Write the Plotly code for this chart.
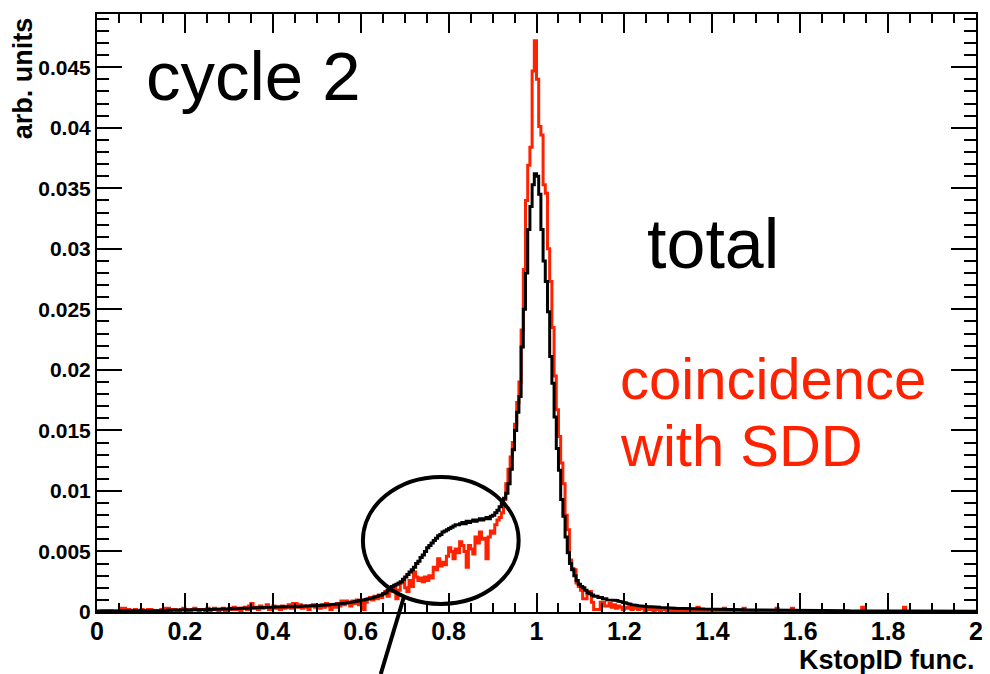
import plotly.graph_objects as go

# ---------------- data ----------------
BIN_WIDTH = 0.005
X_START = 0.0

# "total" histogram (black), 400 bins of 0.005 from 0 to 2
total = [
    0.00008,0.00009,0.0001,0.00009,0.0001,0.0001,0.00011,0.0001,0.0001,0.00011,
    0.0001,0.00011,0.0001,0.00012,0.00011,0.00011,0.00012,0.00011,0.00012,0.00012,
    0.00012,0.00013,0.00012,0.00013,0.00013,0.00012,0.00014,0.00013,0.00013,0.00014,
    0.00014,0.00013,0.00015,0.00014,0.00015,0.00015,0.00014,0.00016,0.00015,0.00016,
    0.00016,0.00017,0.00016,0.00018,0.00017,0.00018,0.00019,0.00018,0.0002,0.00019,
    0.0002,0.00021,0.0002,0.00022,0.00021,0.00023,0.00022,0.00024,0.00024,0.00025,
    0.00026,0.00027,0.00027,0.00028,0.0003,0.00029,0.00031,0.00032,0.00031,0.00033,
    0.00034,0.00035,0.00034,0.00036,0.00037,0.00036,0.00038,0.00039,0.00038,0.0004,
    0.0004,0.00041,0.0004,0.00042,0.00042,0.00043,0.00042,0.00044,0.00044,0.00045,
    0.00045,0.00046,0.00046,0.00047,0.00048,0.00048,0.00049,0.0005,0.0005,0.00052,
    0.00053,0.00054,0.00055,0.00056,0.00058,0.00059,0.00061,0.00062,0.00064,0.00066,
    0.00068,0.0007,0.00072,0.00074,0.00077,0.0008,0.00083,0.00086,0.0009,0.00094,
    0.00098,0.001,0.00104,0.00108,0.00112,0.00117,0.00122,0.00128,0.00134,0.0014,
    0.0015,0.0016,0.0018,0.0019,0.0021,0.0022,0.0023,0.0024,0.0025,0.0027,
    0.0029,0.0031,0.0033,0.0035,0.0037,0.0040,0.0042,0.0045,0.0047,0.0050,
    0.0053,0.0055,0.0057,0.0059,0.0061,0.0063,0.0064,0.0066,0.0067,0.0068,
    0.0069,0.0070,0.0071,0.0072,0.0072,0.0073,0.0074,0.0073,0.0075,0.0074,
    0.0075,0.0076,0.0075,0.0076,0.0077,0.0076,0.0077,0.0078,0.0077,0.0079,
    0.0080,0.0082,0.0084,0.0087,0.0090,0.0094,0.0098,0.0106,0.0118,0.0134,
    0.0150,0.0165,0.0178,0.0219,0.0250,0.0280,0.0316,0.0335,0.0353,0.0362,
    0.0360,0.0345,0.0316,0.0290,0.0273,0.0248,0.0211,0.0189,0.0161,0.0135,
    0.0117,0.0093,0.0079,0.0062,0.0049,0.0040,0.0035,0.0030,0.0026,0.0023,
    0.0021,0.0020,0.0018,0.0016,0.0015,0.0014,0.0013,0.0013,0.0012,0.0012,
    0.0011,0.0011,0.0010,0.0010,0.0010,0.0010,0.00095,0.0009,0.00085,0.0008,
    0.00075,0.0007,0.00065,0.0006,0.0006,0.00055,0.00052,0.0005,0.00048,0.00046,
    0.00045,0.00044,0.00042,0.00041,0.0004,0.00039,0.00038,0.00037,0.00036,0.00035,
    0.00034,0.00033,0.00032,0.00031,0.0003,0.0003,0.00029,0.00029,0.00028,0.00028,
    0.00027,0.00027,0.00026,0.00026,0.00025,0.00025,0.00024,0.00024,0.00023,0.00023,
    0.00022,0.00022,0.00021,0.00021,0.0002,0.0002,0.0002,0.00019,0.00019,0.00019,
    0.00018,0.00018,0.00018,0.00018,0.00017,0.00017,0.00017,0.00017,0.00016,0.00016,
    0.00016,0.00016,0.00016,0.00015,0.00015,0.00015,0.00015,0.00015,0.00015,0.00014,
    0.00014,0.00014,0.00014,0.00014,0.00014,0.00013,0.00013,0.00013,0.00013,0.00013,
    0.00013,0.00013,0.00012,0.00012,0.00012,0.00012,0.00012,0.00012,0.00012,0.00012,
    0.00012,0.00011,0.00011,0.00011,0.00011,0.00011,0.00011,0.00011,0.00011,0.00011,
    0.00011,0.00011,0.0001,0.0001,0.0001,0.0001,0.0001,0.0001,0.0001,0.0001,
    0.0001,0.0001,0.0001,0.0001,0.0001,0.0001,0.0001,0.0001,0.0001,0.0001,
    0.0001,0.0001,0.0001,0.00009,0.00009,0.00009,0.00009,0.00009,0.00009,0.00009,
    0.00009,0.00009,0.00009,0.00009,0.00009,0.00009,0.00009,0.00008,0.00008,0.00008,
    0.00008,0.00008,0.00008,0.00008,0.00008,0.00008,0.00008,0.00008,0.00008,0.00008,
    0.00008,0.00008,0.00008,0.00008,0.00007,0.00007,0.00007,0.00007,0.00007,0.00007,
]

# "coincidence with SDD" histogram (red), same binning
coincidence = [
    0,0,0.0001,0,0.0001,0,0.0001,0,0,0,
    0.0001,0.0003,0.0003,0.0001,0.0002,0,0.0001,0.0002,0,0.0001,
    0.0002,0,0.0001,0.0002,0.0002,0.0001,0,0.0001,0,0.0002,
    0.0002,0.0003,0.0003,0.0001,0.0002,0.0002,0,0.0001,0.0002,0.0003,
    0.0002,0.0001,0,0.0002,0.0003,0.0002,0.0001,0.0002,0.0002,0,
    0.0003,0.0001,0.0002,0.0003,0.0002,0.0001,0.0002,0.0003,0.0001,0.0002,
    0.0003,0.0002,0.0004,0.0002,0.0003,0.0001,0.0003,0.0004,0.0002,0.0005,
    0.0007,0.0003,0.0004,0.0002,0.0005,0.0003,0.0004,0.0006,0.0002,0.0004,
    0.0005,0.0003,0.0004,0.0002,0.0005,0.0003,0.0004,0.0006,0.0003,0.0007,
    0.0007,0.0004,0.0006,0.0003,0.0005,0.0004,0.0002,0.0005,0.0006,0.0004,
    0.0005,0.0003,0.0006,0.0004,0.0007,0.0005,0.0002,0.0006,0.0004,0.0007,
    0.0005,0.0009,0.0006,0.0009,0.0008,0.0005,0.0009,0.0007,0.0010,0.0006,
    0.0010,0.0002,0.0008,0.0011,0.0012,0.0010,0.0013,0.0011,0.0014,0.0012,
    0.0015,0.0017,0.0013,0.0019,0.0017,0.0021,0.0011,0.0018,0.0024,0.0026,
    0.0020,0.0017,0.0026,0.0021,0.0033,0.0029,0.0026,0.0028,0.0025,0.0029,
    0.0026,0.0030,0.0028,0.0037,0.0035,0.0044,0.0038,0.0041,0.0039,0.0046,
    0.0053,0.0050,0.0044,0.0052,0.0049,0.0058,0.0055,0.0050,0.0037,0.0055,
    0.0052,0.0048,0.0062,0.0057,0.0066,0.0060,0.0061,0.0044,0.0062,0.0067,
    0.0065,0.0072,0.0076,0.0078,0.0082,0.0093,0.0106,0.0118,0.0128,0.0140,
    0.0155,0.0173,0.0190,0.0233,0.0283,0.0340,0.0369,0.0384,0.0447,0.0472,
    0.0440,0.0401,0.0394,0.0353,0.0346,0.0300,0.0273,0.0235,0.0195,0.0167,
    0.0145,0.0123,0.0106,0.0080,0.0068,0.0043,0.0036,0.0035,0.0024,0.0021,
    0.0018,0.0011,0.0011,0.0017,0.0017,0.0008,0.0002,0.0002,0.0002,0.0008,
    0.0008,0.0005,0.0005,0.0007,0.0004,0.0006,0.0003,0.0005,0.0004,0.0002,
    0.0004,0.0003,0.0005,0.0002,0.0004,0.0003,0.0002,0.0004,0.0003,0.0001,
    0.0003,0.0002,0.0003,0.0001,0.0002,0.0003,0.0001,0.0002,0.0002,0.0001,
    0.0002,0.0001,0.0002,0.0001,0.0001,0.0002,0.0001,0.0002,0.0001,0.0001,
    0.0001,0.0001,0.0001,0.0004,0.0001,0,0.0001,0.0001,0.0002,0.0001,
    0.0001,0,0.0001,0.0001,0.0001,0.0003,0.0001,0,0.0001,0.0001,
    0.0001,0.0001,0,0.0001,0.0003,0.0001,0,0.0001,0.0001,0,
    0,0.0001,0,0,0.0001,0,0,0,0,0.0003,
    0,0,0.0001,0,0,0,0.0003,0,0,0,
    0,0.0001,0,0,0,0,0,0,0,0,
    0,0,0.0001,0,0,0,0,0,0,0,
    0,0,0,0,0,0,0,0,0.0004,0,
    0,0,0,0,0,0,0,0,0,0,
    0,0,0,0,0,0,0,0.0004,0,0,
    0,0,0,0,0,0,0,0,0,0,
    0,0,0,0,0,0,0,0,0,0,
    0,0,0,0,0,0,0,0,0,0,
]

x_tickvals = [0, 0.2, 0.4, 0.6, 0.8, 1.0, 1.2, 1.4, 1.6, 1.8, 2.0]
x_ticktext = ["0", "0.2", "0.4", "0.6", "0.8", "1", "1.2", "1.4", "1.6", "1.8", "2"]
y_tickvals = [0, 0.005, 0.01, 0.015, 0.02, 0.025, 0.03, 0.035, 0.04, 0.045]
y_ticktext = ["0", "0.005", "0.01", "0.015", "0.02", "0.025", "0.03", "0.035", "0.04", "0.045"]

X_RANGE = [0, 2]
Y_RANGE = [0, 0.0494]

RED = "#ff2200"
FONT = "Liberation Sans"


def step_xy(values):
    xs, ys = [], []
    for i, v in enumerate(values):
        left = X_START + i * BIN_WIDTH
        right = left + BIN_WIDTH
        xs += [left, right]
        ys += [v, v]
    return xs, ys


fig = go.Figure()
xr, yr = step_xy(coincidence)
fig.add_trace(go.Scatter(x=xr, y=yr, mode="lines", line=dict(color=RED, width=3),
                         name="coincidence with SDD", hoverinfo="skip"))
xb, yb = step_xy(total)
fig.add_trace(go.Scatter(x=xb, y=yb, mode="lines", line=dict(color="black", width=3),
                         name="total", hoverinfo="skip"))

axis_common = dict(
    showgrid=False, zeroline=False, showline=True, linecolor="black", linewidth=2,
    mirror="allticks", ticks="inside", tickcolor="black", tickwidth=2,
)

fig.update_xaxes(
    range=X_RANGE, tickmode="array", tickvals=x_tickvals, ticktext=x_ticktext,
    ticklen=19, ticklabelstandoff=-4,
    minor=dict(tickmode="linear", tick0=0, dtick=0.05, ticklen=9, ticks="inside",
               tickcolor="black", tickwidth=2),
    tickfont=dict(family=FONT, size=25, color="black", weight="bold"),
    **axis_common,
)
fig.update_yaxes(
    range=Y_RANGE, tickmode="array", tickvals=y_tickvals, ticktext=y_ticktext,
    ticklen=25,
    minor=dict(tickmode="linear", tick0=0, dtick=0.001, ticklen=12, ticks="inside",
               tickcolor="black", tickwidth=2),
    tickfont=dict(family=FONT, size=21, color="black", weight="bold"),
    **axis_common,
)

annotations = [
    dict(text="cycle 2", x=0.054, y=0.896, xref="paper", yref="paper",
         xanchor="left", yanchor="middle", showarrow=False,
         font=dict(family=FONT, size=69, color="black")),
    dict(text="total", x=0.624, y=0.616, xref="paper", yref="paper",
         xanchor="left", yanchor="middle", showarrow=False,
         font=dict(family=FONT, size=70, color="black")),
    dict(text="coincidence", x=0.5926, y=0.391, xref="paper", yref="paper",
         xanchor="left", yanchor="middle", showarrow=False,
         font=dict(family=FONT, size=58, color=RED)),
    dict(text="with SDD", x=0.5926, y=0.279, xref="paper", yref="paper",
         xanchor="left", yanchor="middle", showarrow=False,
         font=dict(family=FONT, size=58, color=RED)),
    dict(text="<b>KstopID func.</b>", x=1.0, y=-0.08, xref="paper", yref="paper",
         xanchor="right", yanchor="middle", showarrow=False, borderpad=0,
         font=dict(family=FONT, size=27, color="black")),
    dict(text="<b>arb. units</b>", x=-0.084, y=0.998, xref="paper", yref="paper",
         xanchor="center", yanchor="top", textangle=-90, showarrow=False,
         font=dict(family=FONT, size=27, color="black")),
]

shapes = [
    dict(type="circle", xref="paper", yref="paper",
         x0=0.3025, x1=0.4797, y0=0.0134, y1=0.2258,
         line=dict(color="black", width=4)),
    dict(type="line", xref="paper", yref="paper",
         x0=0.3488, y0=0.0234, x1=0.3228, y1=-0.1037,
         line=dict(color="black", width=4)),
]

fig.update_layout(
    width=990, height=674,
    margin=dict(l=97, r=7, t=14, b=62),
    paper_bgcolor="white", plot_bgcolor="white",
    showlegend=False,
    annotations=annotations,
    shapes=shapes,
)

post = (
    "document.body.style.margin='0';"
    "document.body.style.overflow='hidden';"
    "var gd=document.getElementById('{plot_id}');"
    "Plotly.relayout(gd,{width:990,height:674});"
)

fig.write_html("out.html", post_script=post,
               config={"responsive": False, "displayModeBar": False})
